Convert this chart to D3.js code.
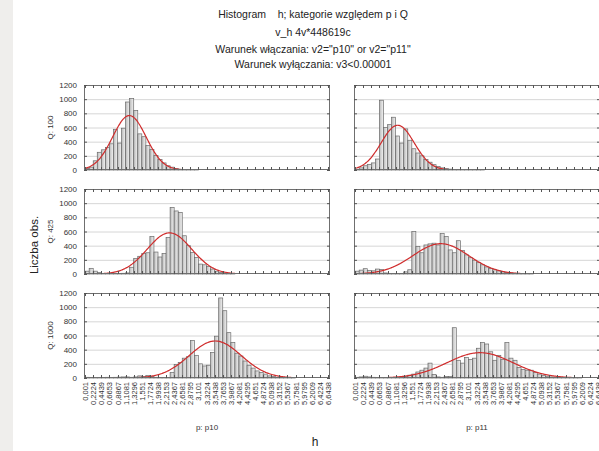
<!DOCTYPE html>
<html>
<head>
<meta charset="utf-8">
<script src="https://cdn.jsdelivr.net/npm/d3@7/dist/d3.min.js"></script>
<style>
  html, body { margin: 0; padding: 0; background: #ffffff; }
  svg { display: block; font-family: "Liberation Sans", Arial, sans-serif; }
</style>
</head>
<body>
<svg id="chart" width="599" height="451"></svg>
<script>
// Axis tick labels of h (Polish decimal comma)
const xTickLabels = ["0,001","0,2224","0,4439","0,6653","0,8867","1,1081","1,3296","1,551",
  "1,7724","1,9938","2,2153","2,4367","2,6581","2,8795","3,101","3,3224","3,5438","3,7653",
  "3,9867","4,2081","4,4295","4,651","4,8724","5,0938","5,3152","5,5367","5,7581","5,9795",
  "6,2009","6,4224","6,6438"];
const yTicks = [0, 200, 400, 600, 800, 1000, 1200];

// Histogram classes: start and width of each bin of h
const binStart = 0.001;
const binWidth = 0.1107133;

// Row and column categories
const rowLabels = ["Q: 100", "Q: 425", "Q: 1000"];
const colLabels = ["p: p10", "p: p11"];

// Counts per bin for each Q / p combination
const q100_p10 = [20, 40, 130, 250, 285, 320, 370, 575, 380, 590, 960, 1010, 840, 510, 470,
  345, 290, 205, 150, 100, 60, 40, 20, 10, 5, 3, 2, 1];
const q100_p11 = [10, 30, 60, 80, 100, 155, 985, 600, 640, 745, 480, 380, 580, 420, 300,
  240, 200, 150, 110, 75, 50, 30, 20, 12, 8, 5, 4, 3, 2, 2, 1, 1];
const q425_p10 = [40, 80, 40, 20, 5, 3, 3, 5, 5, 10, 15, 95, 220, 250, 290, 300, 530, 310,
  240, 290, 515, 940, 890, 870, 540, 400, 305, 235, 140, 130, 105, 70, 40, 20, 10, 5, 3];
const q425_p11 = [40, 55, 75, 50, 45, 70, 65, 15, 5, 3, 2, 5, 30, 60, 600, 390, 300, 410,
  425, 435, 410, 570, 530, 340, 300, 470, 330, 270, 230, 195, 160, 130, 100, 80, 60, 45,
  30, 20, 15, 10, 6, 4, 3, 2];
const q1000_p10 = [10, 8, 6, 5, 8, 10, 8, 10, 12, 15, 15, 10, 15, 30, 20, 35, 20, 10, 5, 3,
  5, 80, 190, 220, 280, 300, 530, 320, 200, 170, 180, 360, 590, 1130, 950, 640, 500, 350,
  310, 240, 180, 140, 100, 80, 55, 30, 20, 10, 5, 3, 2, 1];
const q1000_p11 = [10, 15, 25, 15, 10, 8, 5, 5, 5, 8, 10, 15, 25, 40, 55, 85, 110, 140, 210,
  50, 15, 10, 20, 20, 710, 250, 210, 290, 260, 280, 420, 500, 480, 370, 250, 320, 260, 500,
  280, 250, 150, 120, 110, 110, 80, 55, 35, 25, 15, 10, 8, 5, 4, 3, 2, 2];

const panelData = [
  [q100_p10, q100_p11],
  [q425_p10, q425_p11],
  [q1000_p10, q1000_p11]
];

// Layout
const colX = [84, 354];
const rowY = [85, 189, 293];
const pw = 246, ph = 85;

const svg = d3.select("#chart");

// light frame strip on the left edge
svg.append("rect").attr("x", 0).attr("y", 0).attr("width", 13).attr("height", 451).attr("fill", "#efeeec");

const defs = svg.append("defs");
const grad = defs.append("linearGradient").attr("id", "barFill")
  .attr("x1", "0%").attr("x2", "100%").attr("y1", "0%").attr("y2", "0%");
grad.append("stop").attr("offset", "0%").attr("stop-color", "#b9b9b9");
grad.append("stop").attr("offset", "100%").attr("stop-color", "#f4f4f4");
defs.append("clipPath").attr("id", "panelClip")
  .append("rect").attr("x", 0).attr("y", 0).attr("width", pw).attr("height", ph);

const x = d3.scaleLinear().domain([-0.03, 6.70]).range([0, pw]);
const y = d3.scaleLinear().domain([0, 1200]).range([ph, 0]);
const xTickVals = xTickLabels.map(s => +s.replace(",", "."));

// Title block
const titleLines = [
  { t: "Histogram    h; kategorie względem p i Q", y: 18 },
  { t: "v_h 4v*448619c", y: 36 },
  { t: "Warunek włączania: v2=\"p10\" or v2=\"p11\"", y: 53 },
  { t: "Warunek wyłączania: v3<0.00001", y: 68 }
];
svg.selectAll("text.title").data(titleLines).enter().append("text")
  .attr("class", "title")
  .attr("x", 313).attr("y", d => d.y)
  .attr("text-anchor", "middle")
  .attr("font-size", 10.5).attr("fill", "#222")
  .attr("xml:space", "preserve")
  .style("white-space", "pre")
  .text(d => d.t);

// Shared axis titles
svg.append("text")
  .attr("transform", "translate(38,245) rotate(-90)")
  .attr("text-anchor", "middle").attr("font-size", 11.5).attr("fill", "#222")
  .text("Liczba obs.");
svg.append("text")
  .attr("x", 315).attr("y", 446)
  .attr("text-anchor", "middle").attr("font-size", 12).attr("fill", "#222")
  .text("h");

// Normal curve fitted to the binned counts
function normalFit(counts) {
  const centers = counts.map((c, i) => binStart + (i + 0.5) * binWidth);
  const n = d3.sum(counts);
  const mean = d3.sum(counts, (c, i) => c * centers[i]) / n;
  const varr = d3.sum(counts, (c, i) => c * (centers[i] - mean) ** 2) / n;
  const sd = Math.sqrt(varr);
  return d3.range(0, 301).map(k => {
    const h = x.domain()[0] + k * (x.domain()[1] - x.domain()[0]) / 300;
    const v = n * binWidth / (sd * Math.sqrt(2 * Math.PI)) * Math.exp(-0.5 * ((h - mean) / sd) ** 2);
    return [h, v];
  });
}

rowY.forEach((ry, r) => {
  // row label
  svg.append("text")
    .attr("transform", `translate(${53},${ry + ph / 2}) rotate(-90)`)
    .attr("text-anchor", "middle").attr("font-size", 8).attr("fill", "#333")
    .text(rowLabels[r]);

  // y tick labels (left column only)
  svg.append("g").attr("transform", `translate(${colX[0]},${ry})`)
    .selectAll("text").data(yTicks).enter().append("text")
    .attr("x", -7).attr("y", d => y(d) + 3)
    .attr("text-anchor", "end").attr("font-size", 8).attr("fill", "#333")
    .text(d => d);

  colX.forEach((cx, c) => {
    const g = svg.append("g").attr("transform", `translate(${cx},${ry})`);
    const counts = panelData[r][c];

    // gridlines
    g.selectAll("line.grid").data(yTicks.slice(1, -1)).enter().append("line")
      .attr("x1", 0).attr("x2", pw)
      .attr("y1", d => y(d) + 0.5).attr("y2", d => y(d) + 0.5)
      .attr("stroke", "#d6d6d6").attr("stroke-width", 1);

    // bars
    g.selectAll("rect.bar").data(counts).enter().append("rect")
      .attr("x", (d, i) => x(binStart + i * binWidth))
      .attr("width", x(binWidth) - x(0))
      .attr("y", d => y(d))
      .attr("height", d => ph - y(d))
      .attr("fill", "url(#barFill)")
      .attr("stroke", "#6a6a6a").attr("stroke-width", 0.7);

    // fitted normal curve
    g.append("path")
      .datum(normalFit(counts))
      .attr("clip-path", "url(#panelClip)")
      .attr("fill", "none").attr("stroke", "#d02c2c").attr("stroke-width", 1.2)
      .attr("d", d3.line().x(d => x(d[0])).y(d => y(d[1])).curve(d3.curveBasis));

    // frame
    g.append("rect").attr("x", 0.5).attr("y", 0.5).attr("width", pw - 1).attr("height", ph - 1)
      .attr("fill", "none").attr("stroke", "#6f6f6f").attr("stroke-width", 1);

    // inward tick marks: x on top and bottom, y on left and right
    g.selectAll("line.xtb").data(xTickVals).enter().append("line")
      .attr("x1", d => Math.round(x(d)) + 0.5).attr("x2", d => Math.round(x(d)) + 0.5)
      .attr("y1", ph).attr("y2", ph - 3).attr("stroke", "#555");
    g.selectAll("line.xtt").data(xTickVals).enter().append("line")
      .attr("x1", d => Math.round(x(d)) + 0.5).attr("x2", d => Math.round(x(d)) + 0.5)
      .attr("y1", 0).attr("y2", 3).attr("stroke", "#555");
    g.selectAll("line.ytl").data(yTicks).enter().append("line")
      .attr("x1", 0).attr("x2", 3)
      .attr("y1", d => y(d) + 0.5).attr("y2", d => y(d) + 0.5).attr("stroke", "#555");
    g.selectAll("line.ytr").data(yTicks).enter().append("line")
      .attr("x1", pw).attr("x2", pw - 3)
      .attr("y1", d => y(d) + 0.5).attr("y2", d => y(d) + 0.5).attr("stroke", "#555");

    // x tick labels under the bottom row
    if (r === rowY.length - 1) {
      g.selectAll("text.xl").data(xTickLabels).enter().append("text")
        .attr("transform", (d, i) => `translate(${x(xTickVals[i]) + 3},${ph + 4}) rotate(-90)`)
        .attr("text-anchor", "end").attr("font-size", 7.5).attr("fill", "#333")
        .text(d => d);
      svg.append("text")
        .attr("x", cx + pw / 2).attr("y", ry + ph + 52)
        .attr("text-anchor", "middle").attr("font-size", 8).attr("fill", "#333")
        .text(colLabels[c]);
    }
  });
});
</script>
</body>
</html>
